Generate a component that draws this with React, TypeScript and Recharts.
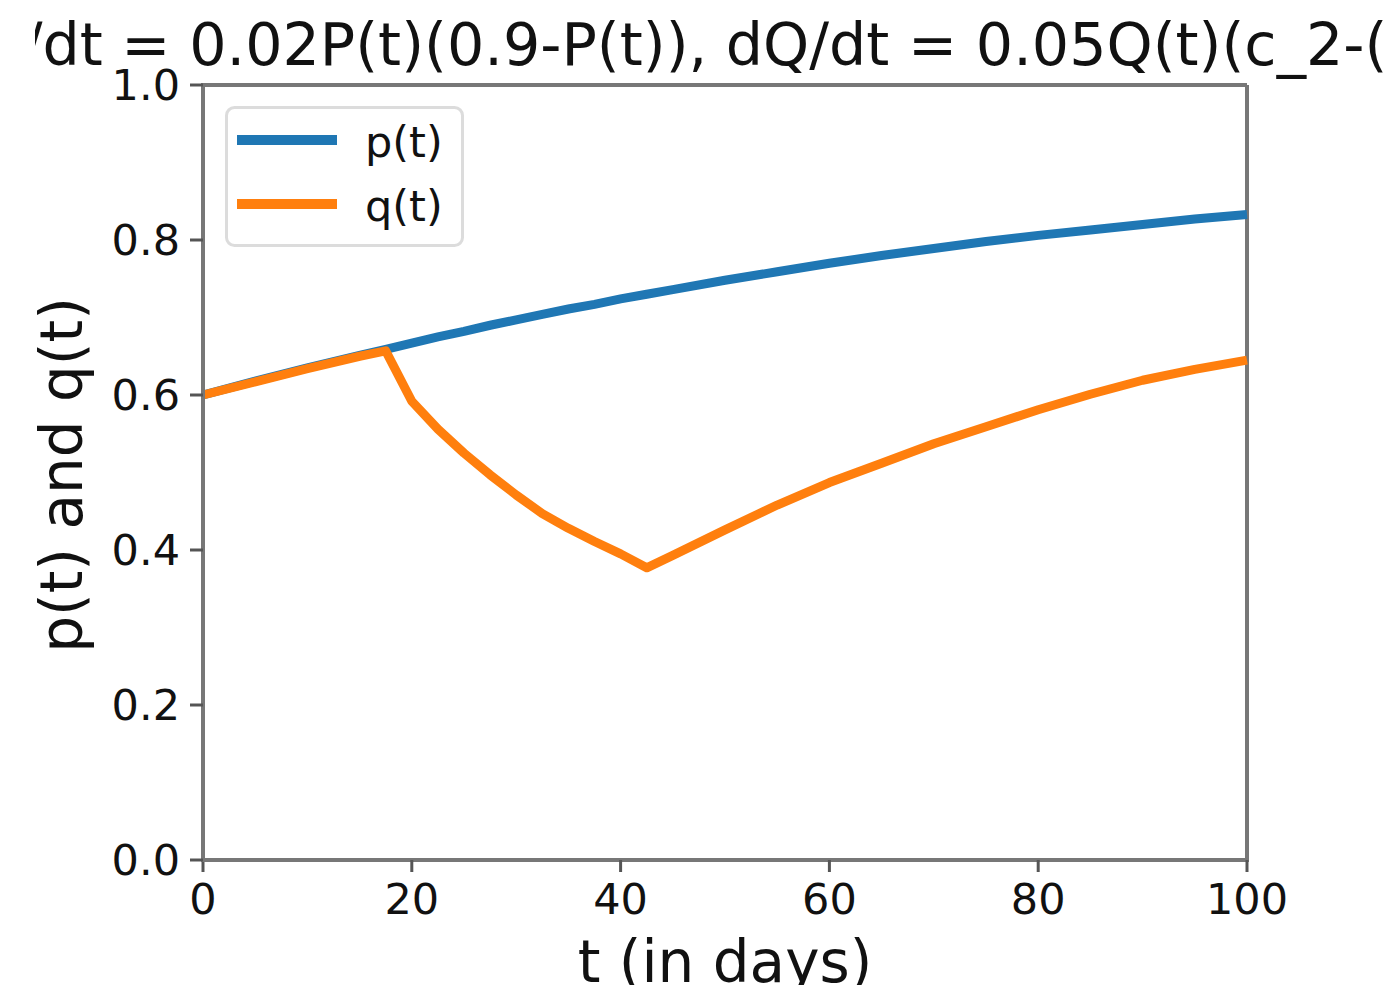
import React from "react"
import { LineChart, Line, XAxis, YAxis, Legend, Label, ReferenceLine } from "recharts"

// values
const days = [0, 5, 10, 15, 17.5, 20, 22.5, 25, 27.5, 30, 32.5, 35, 37.5, 40, 42.5, 45, 50, 55, 60, 65, 70, 75, 80, 85, 90, 95, 100]
const pValues = [0.6, 0.618, 0.635, 0.651, 0.659, 0.667, 0.675, 0.682, 0.69, 0.697, 0.704, 0.711, 0.717, 0.724, 0.73, 0.736, 0.748, 0.759, 0.77, 0.78, 0.789, 0.798, 0.806, 0.813, 0.82, 0.827, 0.833]
const qValues = [0.6, 0.617, 0.634, 0.65, 0.657, 0.592, 0.556, 0.525, 0.497, 0.471, 0.447, 0.428, 0.411, 0.395, 0.377, 0.393, 0.426, 0.458, 0.487, 0.512, 0.537, 0.559, 0.581, 0.601, 0.619, 0.633, 0.645]
const xTicks = [0, 20, 40, 60, 80, 100]
const yTicks = [0, 0.2, 0.4, 0.6, 0.8, 1.0]
const seriesNames = ["p(t)", "q(t)"]
// the title runs past both edges of the figure, as in the original
const titleText = "dP/dt = 0.02P(t)(0.9-P(t)), dQ/dt = 0.05Q(t)(c_2-("
const xLabel = "t (in days)"
const yLabel = "p(t) and q(t)"

const data = days.map((t, i) => ({ t, p: pValues[i], q: qValues[i] }))

const FONT = "DejaVu Sans"
const SPINE = { stroke: "#777", strokeWidth: 4, strokeLinecap: "square" as const }

function XTick(props: any) {
  return (
    <text x={props.x} y={props.y + 40} textAnchor="middle" fontSize={43} fontFamily={FONT} fill="#111">
      {props.payload.value}
    </text>
  )
}

function YTick(props: any) {
  return (
    <text x={props.x - 8} y={props.y + 15} textAnchor="end" fontSize={43} fontFamily={FONT} fill="#111">
      {Number(props.payload.value).toFixed(1)}
    </text>
  )
}

function LegendBox(props: any) {
  const items = props.payload || []
  return (
    <svg width={240} height={142} style={{ display: "block" }}>
      <rect x={1.5} y={1.5} width={236} height={138} rx={8} fill="#fff" stroke="#dcdcdc" strokeWidth={3} />
      {items.map((it: any, i: number) => (
        <g key={i}>
          <line x1={12} x2={112} y1={34 + i * 64} y2={34 + i * 64} stroke={it.color} strokeWidth={10} />
          <text x={140} y={51 + i * 64} fontSize={43} fontFamily={FONT} fill="#111">
            {it.value}
          </text>
        </g>
      ))}
    </svg>
  )
}

function Title() {
  return (
    <g>
      <defs>
        <clipPath id="title-clip">
          <rect x={35} y={0} width={1365} height={84} />
        </clipPath>
      </defs>
      <text x={-50} y={65} fontSize={58.7} fontFamily={FONT} fill="#111" clipPath="url(#title-clip)">
        {titleText}
      </text>
    </g>
  )
}

export default function App() {
  return (
    <div style={{ position: "absolute", left: 0, top: 0, background: "#fff" }}>
      <LineChart width={1400} height={985} data={data} margin={{ top: 85, right: 153, bottom: 0, left: 0 }}>
        <XAxis
          type="number"
          dataKey="t"
          domain={[0, 100]}
          ticks={xTicks}
          interval={0}
          height={125}
          tickSize={12}
          axisLine={SPINE}
          tickLine={{ stroke: "#555", strokeWidth: 3 }}
          tick={XTick}
        >
          <Label
            content={(p: any) => (
              <text
                x={p.viewBox ? p.viewBox.x + p.viewBox.width / 2 : 725}
                y={982}
                textAnchor="middle"
                fontSize={58}
                fontFamily={FONT}
                fill="#111"
              >
                {xLabel}
              </text>
            )}
          />
        </XAxis>
        <YAxis
          type="number"
          domain={[0, 1]}
          ticks={yTicks}
          interval={0}
          width={203}
          tickSize={13}
          axisLine={SPINE}
          tickLine={{ stroke: "#555", strokeWidth: 3 }}
          tick={YTick}
        >
          <Label
            content={() => (
              <text
                x={82}
                y={475}
                textAnchor="middle"
                fontSize={58}
                fontFamily={FONT}
                fill="#111"
                transform="rotate(-90, 82, 475)"
              >
                {yLabel}
              </text>
            )}
          />
        </YAxis>
        <ReferenceLine y={1} stroke="#777" strokeWidth={4} label={() => <Title />} />
        <ReferenceLine x={100} stroke="#777" strokeWidth={4} />
        <Legend
          layout="vertical"
          align="center"
          verticalAlign="middle"
          content={LegendBox}
          wrapperStyle={{ position: "absolute", left: 225, top: 106, width: 240, height: 142 }}
        />
        <Line
          type="linear"
          dataKey="p"
          name={seriesNames[0]}
          stroke="#1f77b4"
          strokeWidth={9}
          dot={false}
          activeDot={false}
          isAnimationActive={false}
        />
        <Line
          type="linear"
          dataKey="q"
          name={seriesNames[1]}
          stroke="#ff7f0e"
          strokeWidth={9}
          dot={false}
          activeDot={false}
          strokeLinejoin="round"
          isAnimationActive={false}
        />
      </LineChart>
    </div>
  )
}
